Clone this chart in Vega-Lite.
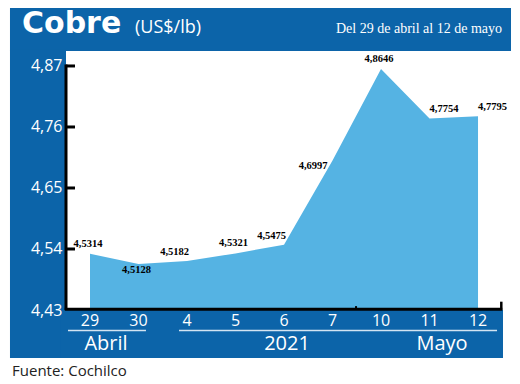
{
  "$schema": "https://vega.github.io/schema/vega-lite/v6.json",
  "width": 437,
  "height": 259,
  "autosize": "none",
  "padding": {"left": 66, "top": 51, "right": 17, "bottom": 74},
  "background": "white",
  "config": {"view": {"stroke": null}},
  "datasets": {
    "cobre": [
      {"dia": "29", "i": 0, "precio": 4.5314, "etiqueta": "4,5314"},
      {"dia": "30", "i": 1, "precio": 4.5128, "etiqueta": "4,5128"},
      {"dia": "4", "i": 2, "precio": 4.5182, "etiqueta": "4,5182"},
      {"dia": "5", "i": 3, "precio": 4.5321, "etiqueta": "4,5321"},
      {"dia": "6", "i": 4, "precio": 4.5475, "etiqueta": "4,5475"},
      {"dia": "7", "i": 5, "precio": 4.6997, "etiqueta": "4,6997"},
      {"dia": "10", "i": 6, "precio": 4.8646, "etiqueta": "4,8646"},
      {"dia": "11", "i": 7, "precio": 4.7754, "etiqueta": "4,7754"},
      {"dia": "12", "i": 8, "precio": 4.7795, "etiqueta": "4,7795"}
    ],
    "marcas": [{"v": 4.54}, {"v": 4.65}, {"v": 4.76}, {"v": 4.87}],
    "uno": [{}]
  },
  "data": {"name": "cobre"},
  "layer": [
    {
      "data": {"name": "uno"},
      "mark": {"type": "rect", "color": "#0c64a9"},
      "encoding": {
        "x": {"datum": -1.65, "type": "quantitative", "scale": {"domain": [-0.495, 8.515], "nice": false, "zero": false}, "axis": null},
        "x2": {"datum": 8.68},
        "y": {
          "datum": 4.9746, "type": "quantitative",
          "scale": {"domain": [4.43, 4.897], "nice": false, "zero": false},
          "axis": {
            "values": [4.43, 4.54, 4.65, 4.76, 4.87],
            "labelExpr": "replace(format(datum.value, '.2f'), '.', ',')",
            "domain": false, "grid": false, "ticks": false,
            "labelColor": "white", "labelFont": "Open Sans", "labelFontSize": 16,
            "labelPadding": 4, "title": null, "zindex": 1
          }
        },
        "y2": {"datum": 4.897}
      }
    },
    {
      "data": {"name": "uno"},
      "mark": {"type": "rect", "color": "#0c64a9"},
      "encoding": {
        "x": {"datum": -1.65, "type": "quantitative", "scale": {"domain": [-0.495, 8.515], "nice": false, "zero": false}, "axis": null},
        "x2": {"datum": -0.495},
        "y": {"datum": 4.9, "type": "quantitative", "scale": {"domain": [4.43, 4.897], "nice": false, "zero": false}},
        "y2": {"datum": 4.3434}
      }
    },
    {
      "data": {"name": "uno"},
      "mark": {"type": "rect", "color": "#0c64a9"},
      "encoding": {
        "x": {"datum": -0.6, "type": "quantitative", "scale": {"domain": [-0.495, 8.515], "nice": false, "zero": false}, "axis": null},
        "x2": {"datum": 8.515},
        "y": {"datum": 4.43, "type": "quantitative", "scale": {"domain": [4.43, 4.897], "nice": false, "zero": false}},
        "y2": {"datum": 4.3434}
      }
    },
    {
      "mark": {"type": "area", "color": "#55b3e3", "opacity": 1},
      "encoding": {
        "x": {"field": "i", "type": "quantitative", "scale": {"domain": [-0.495, 8.515], "nice": false, "zero": false}, "axis": null},
        "y": {"field": "precio", "type": "quantitative", "scale": {"domain": [4.43, 4.897], "nice": false, "zero": false}},
        "y2": {"datum": 4.43}
      }
    },
    {
      "data": {"name": "marcas"},
      "mark": {"type": "rule", "color": "black", "strokeWidth": 3},
      "encoding": {
        "x": {"datum": -0.495, "type": "quantitative", "scale": {"domain": [-0.495, 8.515], "nice": false, "zero": false}, "axis": null},
        "x2": {"datum": -0.31},
        "y": {"field": "v", "type": "quantitative", "scale": {"domain": [4.43, 4.897], "nice": false, "zero": false}}
      }
    },
    {
      "data": {"name": "uno"},
      "mark": {"type": "rule", "color": "black", "strokeWidth": 3},
      "encoding": {
        "x": {"datum": -0.495, "type": "quantitative", "scale": {"domain": [-0.495, 8.515], "nice": false, "zero": false}, "axis": null},
        "y": {"datum": 4.43, "type": "quantitative", "scale": {"domain": [4.43, 4.897], "nice": false, "zero": false}},
        "y2": {"datum": 4.8727}
      }
    },
    {
      "data": {"name": "uno"},
      "mark": {"type": "rule", "color": "black", "strokeWidth": 3},
      "encoding": {
        "x": {"datum": -0.52, "type": "quantitative", "scale": {"domain": [-0.495, 8.515], "nice": false, "zero": false}, "axis": null},
        "x2": {"datum": 8.5},
        "y": {"datum": 4.4315, "type": "quantitative", "scale": {"domain": [4.43, 4.897], "nice": false, "zero": false}}
      }
    },
    {
      "data": {"name": "uno"},
      "mark": {"type": "rule", "color": "black", "strokeWidth": 2.5},
      "encoding": {
        "x": {"datum": 8.48, "type": "quantitative", "scale": {"domain": [-0.495, 8.515], "nice": false, "zero": false}, "axis": null},
        "y": {"datum": 4.43, "type": "quantitative", "scale": {"domain": [4.43, 4.897], "nice": false, "zero": false}},
        "y2": {"datum": 4.445}
      }
    },
    {
      "data": {"name": "uno"},
      "mark": {"type": "rule", "color": "black", "strokeWidth": 2},
      "encoding": {
        "x": {"datum": 5.485, "type": "quantitative", "scale": {"domain": [-0.495, 8.515], "nice": false, "zero": false}, "axis": null},
        "y": {"datum": 4.43, "type": "quantitative", "scale": {"domain": [4.43, 4.897], "nice": false, "zero": false}},
        "y2": {"datum": 4.437}
      }
    },
    {
      "data": {"name": "uno"},
      "mark": {"type": "rule", "color": "#d3e4f2", "strokeWidth": 1.5},
      "encoding": {
        "x": {"datum": -0.454, "type": "quantitative", "scale": {"domain": [-0.495, 8.515], "nice": false, "zero": false}, "axis": null},
        "x2": {"datum": 1.154},
        "y": {"datum": 4.393, "type": "quantitative", "scale": {"domain": [4.43, 4.897], "nice": false, "zero": false}}
      }
    },
    {
      "data": {"name": "uno"},
      "mark": {"type": "rule", "color": "#d3e4f2", "strokeWidth": 1.5},
      "encoding": {
        "x": {"datum": 1.835, "type": "quantitative", "scale": {"domain": [-0.495, 8.515], "nice": false, "zero": false}, "axis": null},
        "x2": {"datum": 8.392},
        "y": {"datum": 4.393, "type": "quantitative", "scale": {"domain": [4.43, 4.897], "nice": false, "zero": false}}
      }
    },
    {
      "mark": {"type": "text", "color": "white", "font": "Open Sans", "fontSize": 16, "baseline": "top", "dy": 3},
      "encoding": {
        "x": {"field": "i", "type": "quantitative", "scale": {"domain": [-0.495, 8.515], "nice": false, "zero": false}, "axis": null},
        "y": {"datum": 4.43, "type": "quantitative", "scale": {"domain": [4.43, 4.897], "nice": false, "zero": false}},
        "text": {"field": "dia"}
      }
    },
    {
      "transform": [{"filter": "indexof([0,3,6], datum.i) >= 0"}],
      "mark": {"type": "text", "color": "black", "font": "Liberation Serif", "fontWeight": "bold", "fontSize": 10.5, "align": "center", "baseline": "alphabetic", "dx": -2, "dy": -7},
      "encoding": {
        "x": {"field": "i", "type": "quantitative", "scale": {"domain": [-0.495, 8.515], "nice": false, "zero": false}, "axis": null},
        "y": {"field": "precio", "type": "quantitative", "scale": {"domain": [4.43, 4.897], "nice": false, "zero": false}},
        "text": {"field": "etiqueta"}
      }
    },
    {
      "transform": [{"filter": "datum.i == 1"}],
      "mark": {"type": "text", "color": "black", "font": "Liberation Serif", "fontWeight": "bold", "fontSize": 10.5, "align": "center", "baseline": "alphabetic", "dx": -2, "dy": 9},
      "encoding": {
        "x": {"field": "i", "type": "quantitative", "scale": {"domain": [-0.495, 8.515], "nice": false, "zero": false}, "axis": null},
        "y": {"field": "precio", "type": "quantitative", "scale": {"domain": [4.43, 4.897], "nice": false, "zero": false}},
        "text": {"field": "etiqueta"}
      }
    },
    {
      "transform": [{"filter": "datum.i == 2 || datum.i == 4"}],
      "mark": {"type": "text", "color": "black", "font": "Liberation Serif", "fontWeight": "bold", "fontSize": 10.5, "align": "right", "baseline": "alphabetic", "dx": 2, "dy": -6},
      "encoding": {
        "x": {"field": "i", "type": "quantitative", "scale": {"domain": [-0.495, 8.515], "nice": false, "zero": false}, "axis": null},
        "y": {"field": "precio", "type": "quantitative", "scale": {"domain": [4.43, 4.897], "nice": false, "zero": false}},
        "text": {"field": "etiqueta"}
      }
    },
    {
      "transform": [{"filter": "datum.i == 5"}],
      "mark": {"type": "text", "color": "black", "font": "Liberation Serif", "fontWeight": "bold", "fontSize": 10.5, "align": "right", "baseline": "alphabetic", "dx": -5, "dy": 9},
      "encoding": {
        "x": {"field": "i", "type": "quantitative", "scale": {"domain": [-0.495, 8.515], "nice": false, "zero": false}, "axis": null},
        "y": {"field": "precio", "type": "quantitative", "scale": {"domain": [4.43, 4.897], "nice": false, "zero": false}},
        "text": {"field": "etiqueta"}
      }
    },
    {
      "transform": [{"filter": "datum.i >= 7"}],
      "mark": {"type": "text", "color": "black", "font": "Liberation Serif", "fontWeight": "bold", "fontSize": 10.5, "align": "left", "baseline": "alphabetic", "dx": 0, "dy": -6},
      "encoding": {
        "x": {"field": "i", "type": "quantitative", "scale": {"domain": [-0.495, 8.515], "nice": false, "zero": false}, "axis": null},
        "y": {"field": "precio", "type": "quantitative", "scale": {"domain": [4.43, 4.897], "nice": false, "zero": false}},
        "text": {"field": "etiqueta"}
      }
    },
    {
      "data": {"name": "uno"},
      "mark": {"type": "text", "color": "white", "font": "DejaVu Sans", "fontWeight": "bold", "fontSize": 30, "align": "left", "baseline": "alphabetic"},
      "encoding": {
        "x": {"datum": -1.402, "type": "quantitative", "scale": {"domain": [-0.495, 8.515], "nice": false, "zero": false}, "axis": null},
        "y": {"datum": 4.9295, "type": "quantitative", "scale": {"domain": [4.43, 4.897], "nice": false, "zero": false}},
        "text": {"value": "Cobre"}
      }
    },
    {
      "data": {"name": "uno"},
      "mark": {"type": "text", "color": "white", "font": "Open Sans", "fontSize": 18, "align": "left", "baseline": "alphabetic"},
      "encoding": {
        "x": {"datum": 0.928, "type": "quantitative", "scale": {"domain": [-0.495, 8.515], "nice": false, "zero": false}, "axis": null},
        "y": {"datum": 4.9295, "type": "quantitative", "scale": {"domain": [4.43, 4.897], "nice": false, "zero": false}},
        "text": {"value": "(US$/lb)"}
      }
    },
    {
      "data": {"name": "uno"},
      "mark": {"type": "text", "color": "white", "font": "Liberation Serif", "fontSize": 14, "align": "right", "baseline": "alphabetic"},
      "encoding": {
        "x": {"datum": 8.495, "type": "quantitative", "scale": {"domain": [-0.495, 8.515], "nice": false, "zero": false}, "axis": null},
        "y": {"datum": 4.9295, "type": "quantitative", "scale": {"domain": [4.43, 4.897], "nice": false, "zero": false}},
        "text": {"value": "Del 29 de abril al 12 de mayo"}
      }
    },
    {
      "data": {"name": "uno"},
      "mark": {"type": "text", "color": "white", "font": "Open Sans", "fontSize": 20, "align": "center", "baseline": "alphabetic"},
      "encoding": {
        "x": {"datum": 0.33, "type": "quantitative", "scale": {"domain": [-0.495, 8.515], "nice": false, "zero": false}, "axis": null},
        "y": {"datum": 4.3579, "type": "quantitative", "scale": {"domain": [4.43, 4.897], "nice": false, "zero": false}},
        "text": {"value": "Abril"}
      }
    },
    {
      "data": {"name": "uno"},
      "mark": {"type": "text", "color": "white", "font": "Open Sans", "fontSize": 20, "align": "center", "baseline": "alphabetic"},
      "encoding": {
        "x": {"datum": 4.062, "type": "quantitative", "scale": {"domain": [-0.495, 8.515], "nice": false, "zero": false}, "axis": null},
        "y": {"datum": 4.3579, "type": "quantitative", "scale": {"domain": [4.43, 4.897], "nice": false, "zero": false}},
        "text": {"value": "2021"}
      }
    },
    {
      "data": {"name": "uno"},
      "mark": {"type": "text", "color": "white", "font": "Open Sans", "fontSize": 20, "align": "center", "baseline": "alphabetic"},
      "encoding": {
        "x": {"datum": 7.258, "type": "quantitative", "scale": {"domain": [-0.495, 8.515], "nice": false, "zero": false}, "axis": null},
        "y": {"datum": 4.3579, "type": "quantitative", "scale": {"domain": [4.43, 4.897], "nice": false, "zero": false}},
        "text": {"value": "Mayo"}
      }
    },
    {
      "data": {"name": "uno"},
      "mark": {"type": "text", "color": "#222222", "font": "Open Sans", "fontSize": 15, "align": "left", "baseline": "alphabetic"},
      "encoding": {
        "x": {"datum": -1.608, "type": "quantitative", "scale": {"domain": [-0.495, 8.515], "nice": false, "zero": false}, "axis": null},
        "y": {"datum": 4.311, "type": "quantitative", "scale": {"domain": [4.43, 4.897], "nice": false, "zero": false}},
        "text": {"value": "Fuente: Cochilco"}
      }
    }
  ]
}
